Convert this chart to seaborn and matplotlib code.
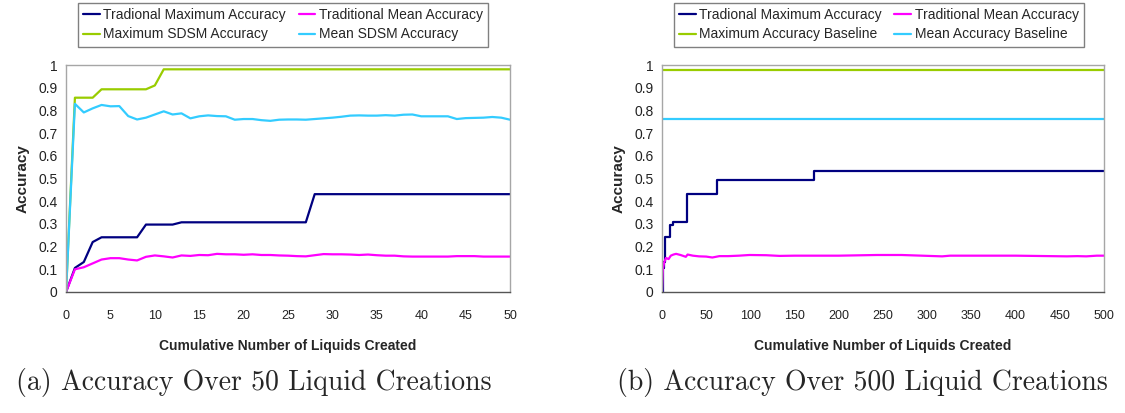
import numpy as np
import pandas as pd
import matplotlib
matplotlib.use("Agg")
import matplotlib.pyplot as plt
import seaborn as sns

# ---- data: first 50 liquid creations ----
x_50 = list(range(0, 51))
trad_max_50 = [0, 0.106, 0.132, 0.220, 0.241, 0.241, 0.241, 0.241, 0.241, 0.297,
               0.297, 0.297, 0.297, 0.307, 0.307, 0.307, 0.307, 0.307, 0.307, 0.307,
               0.307, 0.307, 0.307, 0.307, 0.307, 0.307, 0.307, 0.307, 0.431, 0.431,
               0.431, 0.431, 0.431, 0.431, 0.431, 0.431, 0.431, 0.431, 0.431, 0.431,
               0.431, 0.431, 0.431, 0.431, 0.431, 0.431, 0.431, 0.431, 0.431, 0.431,
               0.431]
trad_mean_50 = [0, 0.100, 0.109, 0.126, 0.143, 0.149, 0.149, 0.143, 0.139, 0.155,
                0.161, 0.157, 0.152, 0.161, 0.159, 0.163, 0.162, 0.168, 0.166, 0.166,
                0.164, 0.166, 0.163, 0.163, 0.161, 0.160, 0.158, 0.157, 0.162, 0.167,
                0.166, 0.166, 0.165, 0.163, 0.165, 0.162, 0.160, 0.160, 0.157, 0.156,
                0.156, 0.156, 0.156, 0.156, 0.158, 0.158, 0.158, 0.156, 0.156, 0.156,
                0.156]
sdsm_max_50 = [0, 0.856, 0.856, 0.856, 0.893, 0.893, 0.893, 0.893, 0.893, 0.893,
               0.910, 0.981, 0.981, 0.981, 0.981, 0.981, 0.981, 0.981, 0.981, 0.981,
               0.981, 0.981, 0.981, 0.981, 0.981, 0.981, 0.981, 0.981, 0.981, 0.981,
               0.981, 0.981, 0.981, 0.981, 0.981, 0.981, 0.981, 0.981, 0.981, 0.981,
               0.981, 0.981, 0.981, 0.981, 0.981, 0.981, 0.981, 0.981, 0.981, 0.981,
               0.981]
sdsm_mean_50 = [0, 0.829, 0.791, 0.809, 0.824, 0.818, 0.819, 0.775, 0.760, 0.768,
                0.782, 0.796, 0.782, 0.787, 0.765, 0.774, 0.778, 0.775, 0.774, 0.759,
                0.762, 0.762, 0.757, 0.754, 0.759, 0.760, 0.760, 0.759, 0.762, 0.765,
                0.768, 0.772, 0.777, 0.778, 0.777, 0.777, 0.779, 0.777, 0.781, 0.782,
                0.774, 0.774, 0.774, 0.774, 0.762, 0.766, 0.767, 0.768, 0.771, 0.768,
                0.759]

# ---- data: 500 liquid creations ----
trad_max_500_x = [0, 1, 2, 3, 4, 9, 13, 28, 62, 172, 500]
trad_max_500_y = [0, 0.106, 0.132, 0.220, 0.241, 0.297, 0.307, 0.431, 0.495, 0.531, 0.531]
trad_mean_500_x = [0, 1, 2.5, 4.5, 7.5, 10, 13, 16, 21, 27, 29, 35, 42, 50, 57, 65,
                   75, 87, 99, 118, 133, 150, 200, 243, 271, 317, 326, 350, 400,
                   458, 470, 480, 492, 500]
trad_mean_500_y = [0, 0.100, 0.130, 0.150, 0.145, 0.160, 0.165, 0.168, 0.163, 0.155,
                   0.165, 0.160, 0.157, 0.156, 0.152, 0.158, 0.158, 0.160, 0.163,
                   0.162, 0.159, 0.160, 0.160, 0.163, 0.163, 0.157, 0.160, 0.160,
                   0.160, 0.157, 0.158, 0.157, 0.160, 0.160]
baseline_x = [0, 500]
max_baseline = [0.98, 0.98]
mean_baseline = [0.76, 0.76]

NAVY = "#000080"
MAGENTA = "#ff00ff"
GREEN = "#99cc00"
CYAN = "#33ccff"

sns.set_style("white")
plt.rcParams["font.family"] = ["Liberation Sans", "DejaVu Sans"]

fig = plt.figure(figsize=(11.25, 4.13), dpi=100)
ax1 = fig.add_axes([0.0587, 0.2930, 0.3947, 0.5496])
ax2 = fig.add_axes([0.5884, 0.2930, 0.3929, 0.5496])

lw = 1.6
sns.lineplot(x=x_50, y=trad_max_50, color=NAVY, lw=lw, ax=ax1, label="Tradional Maximum Accuracy")
sns.lineplot(x=x_50, y=trad_mean_50, color=MAGENTA, lw=lw, ax=ax1, label="Traditional Mean Accuracy")
sns.lineplot(x=x_50, y=sdsm_max_50, color=GREEN, lw=lw, ax=ax1, label="Maximum SDSM Accuracy")
sns.lineplot(x=x_50, y=sdsm_mean_50, color=CYAN, lw=lw, ax=ax1, label="Mean SDSM Accuracy")

sns.lineplot(x=trad_max_500_x, y=trad_max_500_y, color=NAVY, lw=lw, ax=ax2,
             drawstyle="steps-post", label="Tradional Maximum Accuracy")
sns.lineplot(x=trad_mean_500_x, y=trad_mean_500_y, color=MAGENTA, lw=lw, ax=ax2,
             label="Traditional Mean Accuracy")
sns.lineplot(x=baseline_x, y=max_baseline, color=GREEN, lw=lw, ax=ax2,
             label="Maximum Accuracy Baseline")
sns.lineplot(x=baseline_x, y=mean_baseline, color=CYAN, lw=lw, ax=ax2,
             label="Mean Accuracy Baseline")

yticks = [i / 10 for i in range(11)]
ylabels = ["0"] + [f"{v:.1f}" for v in yticks[1:-1]] + ["1"]

for ax, xmax, step, major, bx0 in ((ax1, 50, 1, 5, 0.0693), (ax2, 500, 10, 50, 0.599)):
    ax.set_xlim(0, xmax)
    ax.set_ylim(0, 1)
    ax.set_yticks(yticks)
    ax.set_yticklabels(ylabels, fontsize=10, color="#222222")
    ticks = list(range(0, xmax + 1, step))
    ax.set_xticks(ticks)
    ax.set_xticklabels([str(t) if t % major == 0 else "" for t in ticks],
                       fontsize=9, color="#222222")
    ax.tick_params(axis="x", direction="out", length=5, width=0.9, color="#555555", pad=8)
    ax.tick_params(axis="y", length=0, pad=6)
    for side in ("top", "right", "left"):
        ax.spines[side].set_color("#a6a6a6")
        ax.spines[side].set_linewidth(1.0)
    ax.spines["bottom"].set_color("#555555")
    ax.spines["bottom"].set_linewidth(1.0)
    ax.set_xlabel("Cumulative Number of Liquids Created", fontsize=10, fontweight="bold",
                  labelpad=12)
    ax.set_ylabel("Accuracy", fontsize=11, fontweight="bold", labelpad=6)
    ax.grid(False)

    handles, labels = ax.get_legend_handles_labels()
    ax.get_legend().remove()
    order = [0, 2, 1, 3]
    fig.legend([handles[i] for i in order], [labels[i] for i in order],
               loc="upper left", bbox_to_anchor=(bx0, 0.993), ncol=2,
               fontsize=10, frameon=True, fancybox=False, edgecolor="#808080",
               framealpha=1, handlelength=1.2, handletextpad=0.25,
               columnspacing=0.9, labelspacing=0.38, borderpad=0.38,
               borderaxespad=0)

fig.text(0.2258, 0.073, "(a) Accuracy Over 50 Liquid Creations", family="cmr10",
         fontsize=20, ha="center", va="center")
fig.text(0.7662, 0.073, "(b) Accuracy Over 500 Liquid Creations", family="cmr10",
         fontsize=20, ha="center", va="center")

fig.savefig("out.png", dpi=100, facecolor="white")
